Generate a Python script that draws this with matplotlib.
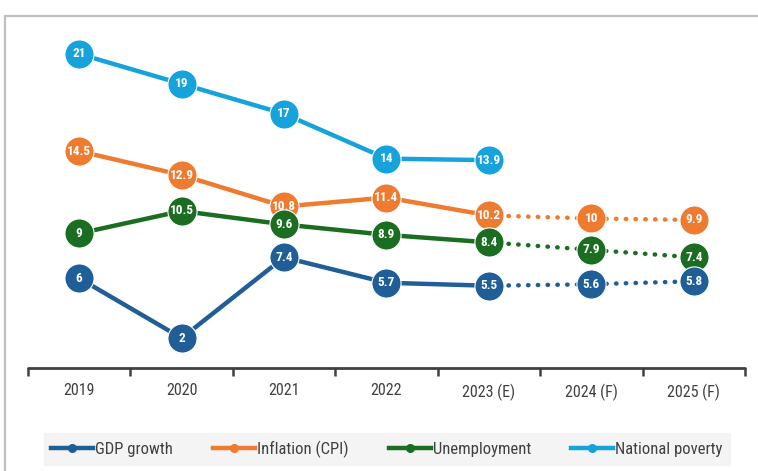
import matplotlib
matplotlib.use("Agg")
import matplotlib.pyplot as plt
from matplotlib.patches import Rectangle
from matplotlib.lines import Line2D
from matplotlib import font_manager
import numpy as np

available = {f.name for f in font_manager.fontManager.ttflist}
narrow = None
for cand in ['Liberation Sans Narrow', 'DejaVu Sans Condensed', 'Roboto Condensed',
             'Open Sans Condensed', 'Noto Sans Condensed', 'Roboto', 'Lato']:
    if cand in available:
        narrow = cand
        break
if narrow is None:
    narrow = 'DejaVu Sans'
plt.rcParams['font.family'] = [narrow, 'DejaVu Sans']

categories = ["2019", "2020", "2021", "2022", "2023 (E)", "2024 (F)", "2025 (F)"]
gdp = [6, 2, 7.4, 5.7, 5.5, 5.6, 5.8]
inflation = [14.5, 12.9, 10.8, 11.4, 10.2, 10, 9.9]
unemployment = [9, 10.5, 9.6, 8.9, 8.4, 7.9, 7.4]
poverty = [21, 19, 17, 14, 13.9]
series_names = ["GDP growth", "Inflation (CPI)", "Unemployment", "National poverty"]
colors = ["#1f5e96", "#ee7b30", "#1b6d21", "#16a3db"]
n_actual = 5  # solid up to 2023 (E)

fig = plt.figure(figsize=(7.58, 4.71), dpi=100)
ax = fig.add_axes([28/758, 1-368/471, (745-28)/758, (368-39)/471])

# outer border
top = 1 - 16/471
fig.patches.append(Rectangle((5/758, -0.2), 1.2, top + 0.2, transform=fig.transFigure,
                             fill=False, edgecolor="#bfbfbf", linewidth=1.6, zorder=0))

x = np.arange(len(categories))
all_series = [gdp, inflation, unemployment, poverty]
zorders = [8, 5, 6, 4]

def fmt(v):
    return str(int(v)) if float(v).is_integer() else f"{v:g}"

for vals, col, name, z in zip(all_series, colors, series_names, zorders):
    xs = x[:len(vals)]
    na = min(n_actual, len(vals))
    ax.plot(xs[:na], vals[:na], color=col, lw=3.2, solid_capstyle='round', zorder=z)
    if len(vals) > na:
        ax.plot(xs[na-1:], vals[na-1:], color=col, lw=3.2, linestyle=(0, (0.1, 2.1)),
                dash_capstyle='round', zorder=z)
    ax.plot(xs, vals, linestyle='none', marker='o', markersize=21, markerfacecolor=col,
            markeredgecolor='white', markeredgewidth=0.8, zorder=z + 0.1)
    for xi, v in zip(xs, vals):
        ax.text(xi, v, fmt(v), ha='center', va='center', color='white', fontsize=9.5,
                fontweight='bold', zorder=z + 0.2)

ax.set_xlim(-0.5, 6.5)
ax.set_ylim(0, 22)
ax.set_xticks(x)
ax.set_xticklabels(categories, fontsize=11.5, color="#404040")
ax.set_xticks(np.arange(-0.5, 7, 1), minor=True)
ax.tick_params(axis='x', which='major', length=0, pad=11)
ax.tick_params(axis='x', which='minor', length=6, width=1.8, color="#404040", direction='out')
ax.set_yticks([])
for s in ['top', 'right', 'left']:
    ax.spines[s].set_visible(False)
ax.spines['bottom'].set_color("#404040")
ax.spines['bottom'].set_linewidth(2)
ax.spines['bottom'].set_capstyle('round')
ax.patch.set_visible(False)

handles = [Line2D([0], [0], color=c, lw=3.2, marker='o', markersize=5.5, markerfacecolor=c,
                  markeredgecolor=c) for c in colors]
leg = fig.legend(handles, series_names, loc='center', bbox_to_anchor=(387/758, 1-449/471),
                 ncol=4, frameon=True, fontsize=12, handlelength=2.5, handletextpad=0.15,
                 columnspacing=2.4, borderpad=0.45, fancybox=False)
leg.get_frame().set_facecolor("#f2f2f2")
leg.get_frame().set_edgecolor("#f2f2f2")
for t in leg.get_texts():
    t.set_color("#404040")

fig.savefig("out.png", dpi=100)
